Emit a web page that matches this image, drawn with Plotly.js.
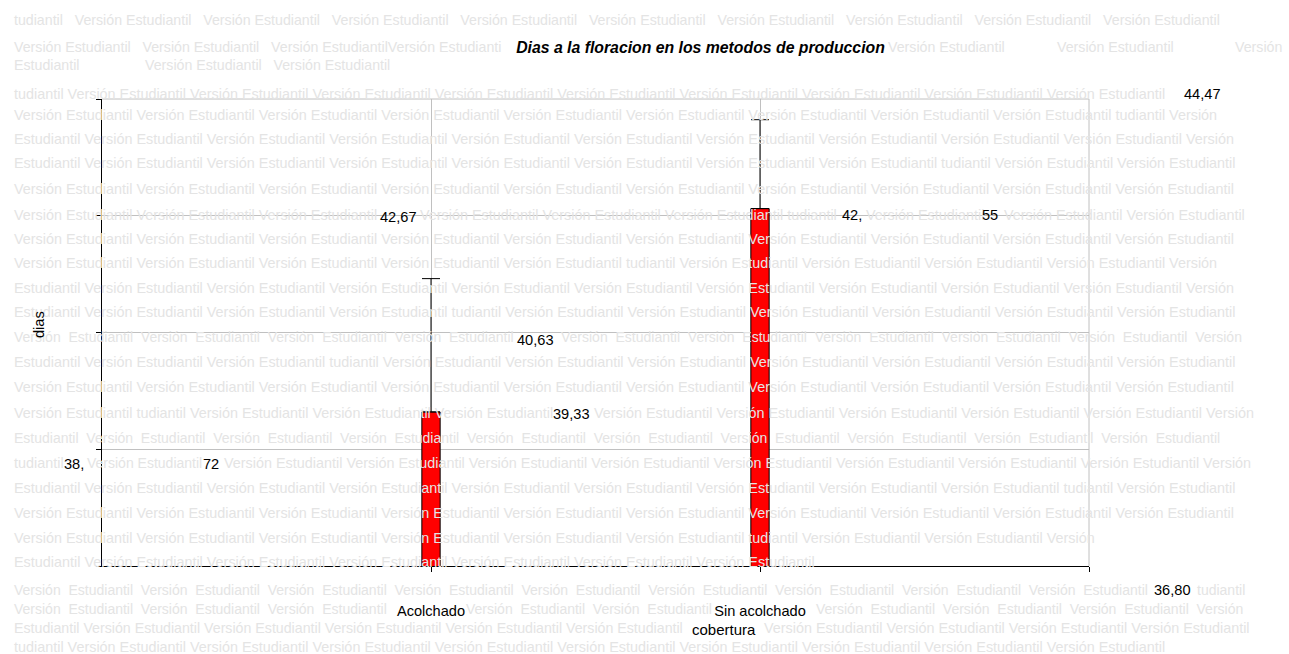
<!DOCTYPE html>
<html>
<head>
<meta charset="utf-8">
<script src="https://cdn.plot.ly/plotly-3.0.1.min.js"></script>
<style>html,body{margin:0;padding:0;background:#fff;}#chart{width:1289px;height:654px;}</style>
</head>
<body>
<div id="chart"></div>
<script>
// ---------- data ----------
const categories = ["Acolchado", "Sin acolchado"];
const dias = [39.33, 42.67];
const errPlus = [2.19, 1.46];
const yTickVals = [36.80, 38.72, 40.63, 42.55, 44.47];
const yTickLabels = ["36,80", "38,72", "40,63", "42,55", "44,47"];
const chartTitle = "Dias a la floracion en los metodos de produccion";
const xTitle = "cobertura";
const yTitle = "dias";

// ---------- layout geometry ----------
const W = 1289, H = 654;
const M = {l: 102, r: 200, t: 99, b: 88};
const PW = W - M.l - M.r, PH = H - M.t - M.b;
const px2x = px => (px - M.l) / PW;
const py2y = py => (H - M.b - py) / PH;
const FONT = "Liberation Sans, Arial, sans-serif";
const WM = "#e4e4e4";

const xPos = categories.map((c, i) => i + 1);

// ---------- watermark rows ----------
const NB = "\u00a0";
const VE = "Versión Estudiantil";
const W3 = NB + NB + " ", W2 = NB + " ";
const rep = (s, n, sep) => Array(n).fill(s).join(sep);
const wide = n => rep("Versión" + W2 + "Estudiantil", n, W2);

const wmRows = [
  [12, 20, "tudiantil" + W3 + rep(VE, 9, W3), 14.2],
  [12, 47, rep(VE, 2, W3) + W3 + VE + "Versión Estudianti", 14.2],
  [886, 47, VE, 14.2], [1055, 47, VE, 14.2], [1233, 47, "Versión", 14.2],
  [12, 65, "Estudiantil", 14.2], [143, 65, VE + W3 + VE, 14.2],
  [12, 94, "tudiantil " + rep(VE, 9, " "), 14.4],
  [12, 115, rep(VE, 9, " ") + " tudiantil Versión", 14.4],
  [12, 139, "Estudiantil " + rep(VE, 9, " ") + " Versión", 14.4],
  [12, 163, "Estudiantil " + rep(VE, 7, " ") + " tudiantil " + rep(VE, 2, " "), 14.4],
  [12, 189, rep(VE, 10, " "), 14.4],
  [12, 215, rep(VE, 3, " "), 14.4], [418, 215, rep(VE, 3, " ") + " tudiantil", 14.4],
  [864, 215, VE, 14.4], [1002, 215, rep(VE, 2, " "), 14.4],
  [12, 239, rep(VE, 10, " "), 14.4],
  [12, 263, rep(VE, 5, " ") + " tudiantil " + rep(VE, 4, " ") + " Versión", 14.4],
  [12, 288, "Estudiantil " + rep(VE, 9, " ") + " Versión", 14.4],
  [12, 312, "Estudiantil " + rep(VE, 3, " ") + " tudiantil " + rep(VE, 6, " "), 14.4],
  [12, 337, wide(4), 14.0], [559, 337, wide(5) + W2 + "Versión", 14.0],
  [12, 362, "Estudiantil " + rep(VE, 2, " ") + " tudiantil " + rep(VE, 7, " "), 14.4],
  [12, 387, rep(VE, 10, " "), 14.4],
  [12, 413, VE + " tudiantil " + rep(VE, 3, " "), 14.4], [592, 413, rep(VE, 5, " ") + " Versión", 14.4],
  [12, 438, "Estudiantil" + W2 + wide(9), 14.0],
  [12, 463, "tudiantil", 14.4], [85, 463, VE, 14.0], [222, 463, rep(VE, 8, " ") + " Versión", 14.4],
  [12, 488, "Estudiantil " + rep(VE, 8, " ") + " tudiantil " + VE, 14.4],
  [12, 513, rep(VE, 10, " "), 14.4],
  [12, 538, rep(VE, 6, " ") + " tudiantil " + rep(VE, 2, " ") + " Versión", 14.4],
  [12, 562, "Estudiantil " + rep(VE, 6, " "), 14.4],
  [12, 590, wide(9), 14.0], [1195, 590, "tudiantil", 14.0],
  [12, 609, wide(3), 14.0], [464, 609, wide(2), 14.0], [814, 609, wide(3) + W2 + "Versión", 14.0],
  [12, 628, "Estudiantil " + rep(VE, 5, " "), 14.2], [762, 628, rep(VE, 4, " "), 14.4],
  [12, 647, "tudiantil " + rep(VE, 9, " "), 14.4]
];

const annotations = wmRows.map(r => ({
  xref: "paper", yref: "paper", x: px2x(r[0]), y: py2y(r[1]),
  xanchor: "left", yanchor: "middle", showarrow: false, text: r[2],
  font: {family: FONT, size: r[3], color: WM}
}));

// ---------- misplaced value labels (as in the reference) ----------
const lab = (text, xpx, yval, shift) => ({
  xref: "paper", yref: "y", x: px2x(xpx), y: yval, yshift: shift,
  xanchor: "center", yanchor: "middle", showarrow: false, text: text,
  font: {family: FONT, size: 14.6, color: "#000"}
});
const split = s => { const i = s.indexOf(","); return [s.slice(0, i + 1), s.slice(i + 1)]; };

annotations.push(lab(yTickLabels[4], 1202, yTickVals[4], 5));
annotations.push(lab(split(yTickLabels[3])[0], 852, yTickVals[3], 1));
annotations.push(lab(split(yTickLabels[3])[1], 990, yTickVals[3], 1));
annotations.push(lab(yTickLabels[2], 535, yTickVals[2], -6.7));
annotations.push(lab(split(yTickLabels[1])[0], 74, yTickVals[1], -14.4));
annotations.push(lab(split(yTickLabels[1])[1], 211, yTickVals[1], -14.4));
annotations.push(lab(yTickLabels[0], 1172, yTickVals[0], -24));
const fmt = v => v.toFixed(2).replace(".", ",");
annotations.push(lab(fmt(dias[1]), 398.5, dias[1], -8.4));
annotations.push(lab(fmt(dias[0]), 571, dias[0], -2.5));

// axis titles
annotations.push({xref: "paper", yref: "paper", x: px2x(724), y: py2y(629), xanchor: "center", yanchor: "middle",
  showarrow: false, text: xTitle, font: {family: FONT, size: 15, color: "#000"}});
annotations.push({xref: "paper", yref: "paper", x: px2x(39), y: py2y(325), xanchor: "center", yanchor: "middle",
  showarrow: false, text: yTitle, textangle: -90, font: {family: FONT, size: 14.6, color: "#000"}});

const trace = {
  type: "bar", x: xPos, y: dias, width: 0.0556,
  marker: {color: "#ff0000", line: {color: "#000", width: 1}},
  error_y: {type: "data", symmetric: false, array: errPlus, arrayminus: dias.map(() => 0),
            color: "#000", thickness: 1, width: 9},
  hoverinfo: "none"
};

const layout = {
  width: W, height: H, margin: M, showlegend: false,
  paper_bgcolor: "#fff", plot_bgcolor: "#fff",
  title: {text: "<b><i>" + chartTitle + "</i></b>", x: 700.5 / W, xanchor: "center",
          y: 1 - 47 / H, yanchor: "middle", font: {family: FONT, size: 15.8, color: "#000"}},
  xaxis: {range: [0, 3], tickmode: "array", tickvals: [1, 2, 3], ticktext: categories.concat([""]),
          showgrid: true, gridcolor: "#c0c0c0", gridwidth: 1, zeroline: false,
          showline: true, linecolor: "#000", linewidth: 1, ticks: "outside", ticklen: 5,
          tickcolor: "#000", ticklabelstandoff: 26,
          tickfont: {family: FONT, size: 14.6, color: "#000"}},
  yaxis: {range: [yTickVals[0], yTickVals[yTickVals.length - 1]], tickmode: "array", tickvals: yTickVals,
          showticklabels: false, showgrid: true, gridcolor: "#c0c0c0", gridwidth: 1, zeroline: false,
          showline: true, linecolor: "#000", linewidth: 1, ticks: "outside", ticklen: 5, tickcolor: "#000"},
  shapes: [
    {type: "line", xref: "paper", yref: "paper", x0: 0, x1: 1, y0: 1, y1: 1, layer: "below", line: {color: "#c0c0c0", width: 1}},
    {type: "line", xref: "paper", yref: "paper", x0: 1, x1: 1, y0: 0, y1: 1, layer: "below", line: {color: "#c0c0c0", width: 1}}
  ],
  annotations: annotations
};

Plotly.newPlot("chart", [trace], layout, {displayModeBar: false, staticPlot: true});
</script>
</body>
</html>
